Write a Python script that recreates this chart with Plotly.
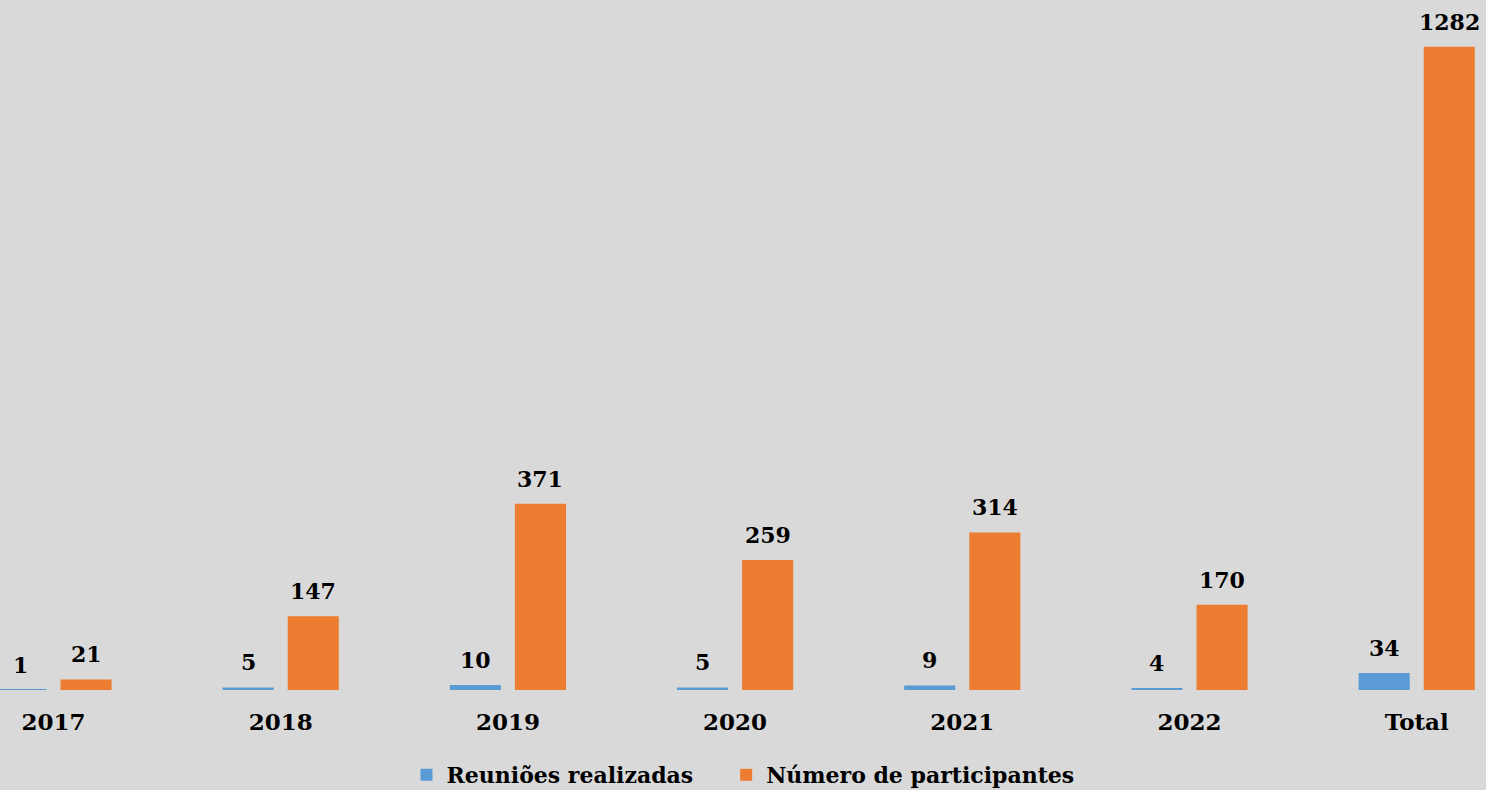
import plotly.graph_objects as go
import numpy as np

categories = ["2017", "2018", "2019", "2020", "2021", "2022", "Total"]
reunioes = [1, 5, 10, 5, 9, 4, 34]
participantes = [21, 147, 371, 259, 314, 170, 1282]
series_names = ["Reuniões realizadas", "Número de participantes"]

BLUE = "#5B9BD5"
ORANGE = "#ED7D31"
BG = "#D9D9D9"
FONT = "DejaVu Serif"

x = np.arange(len(categories))
BARGAP = 0.427
GROUPGAP = 0.215
slot = (1 - BARGAP) / 2  # width of each bar slot in category units
off = slot / 2

fig = go.Figure()
fig.add_trace(go.Bar(x=x, y=reunioes, name=f"<b>{series_names[0]}</b>" + "&nbsp;" * 4,
                     marker=dict(color=BLUE, line=dict(width=0))))
fig.add_trace(go.Bar(x=x, y=participantes, name=f"<b>{series_names[1]}</b>",
                     marker=dict(color=ORANGE, line=dict(width=0))))

annotations = []
for i in range(len(categories)):
    for val, dx in ((reunioes[i], -off), (participantes[i], off)):
        annotations.append(dict(x=x[i] + dx, y=val, xref="x", yref="y",
                                text=f"<b>{val}</b>", showarrow=False,
                                yanchor="middle", xanchor="center", yshift=25,
                                font=dict(family=FONT, size=22, color="black")))

fig.update_layout(
    width=1486, height=790,
    paper_bgcolor=BG, plot_bgcolor=BG,
    margin=dict(l=0, r=0, t=0, b=100, autoexpand=False),
    barmode="group", bargap=BARGAP, bargroupgap=GROUPGAP,
    annotations=annotations,
    showlegend=True,
    legend=dict(orientation="h", x=0.5, xanchor="center", xref="container",
                y=0.019, yanchor="middle", yref="container",
                font=dict(family=FONT, size=22, color="black"),
                bgcolor="rgba(0,0,0,0)", itemwidth=30, traceorder="normal"),
    xaxis=dict(range=[-0.2355, 6.305], tickmode="array", tickvals=list(x),
               ticktext=[f"<b>{c}</b>" for c in categories],
               tickfont=dict(family=FONT, size=23, color="black"),
               showgrid=False, zeroline=False, showline=False, ticks="",
               ticklabelstandoff=16),
    yaxis=dict(range=[0, 1375], visible=False, showgrid=False, zeroline=False),
)

fig.write_html("out.html")
